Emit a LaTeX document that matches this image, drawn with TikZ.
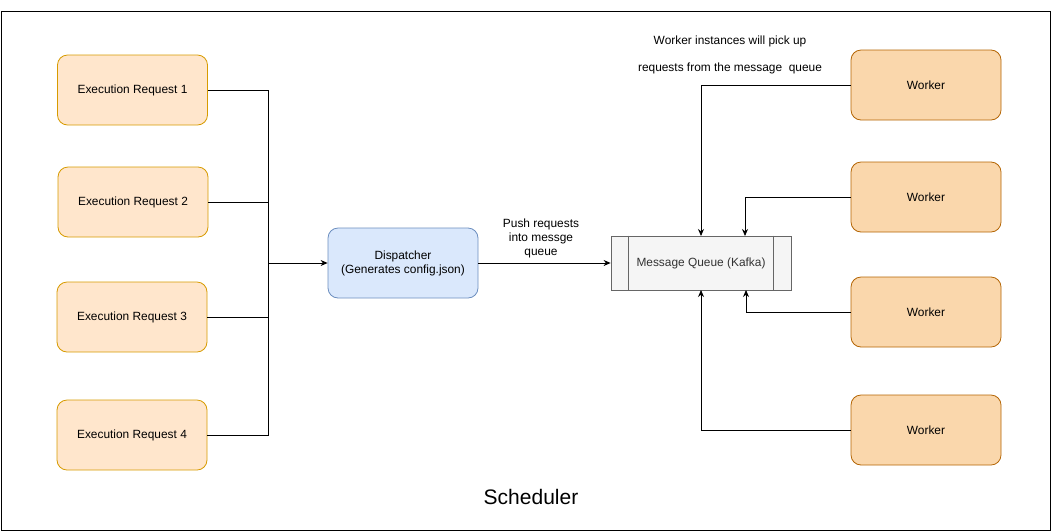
\documentclass[tikz,border=0pt]{standalone}
\usepackage{fontspec}
\setmainfont{Liberation Sans}
\usetikzlibrary{arrows.meta}
\definecolor{reqfill}{HTML}{FFE6CC}
\definecolor{reqdraw}{HTML}{D79B00}
\definecolor{dispfill}{HTML}{DAE8FC}
\definecolor{dispdraw}{HTML}{6C8EBF}
\definecolor{qfill}{HTML}{F5F5F5}
\definecolor{qdraw}{HTML}{666666}
\definecolor{qtext}{HTML}{333333}
\definecolor{wfill}{HTML}{FAD7AC}
\definecolor{wdraw}{HTML}{B46504}
\tikzset{
  box/.style={rounded corners=10pt, minimum width=150pt, minimum height=70pt, inner sep=0pt, align=center, font=\fontsize{11.9}{14}\selectfont, line width=0.8pt},
  reqbox/.style={box, fill=reqfill, draw=reqdraw},
  dispbox/.style={box, fill=dispfill, draw=dispdraw},
  wbox/.style={box, fill=wfill, draw=wdraw},
  qbox/.style={fill=qfill, draw=qdraw, minimum width=180pt, minimum height=54pt, inner sep=0pt, text=qtext, font=\fontsize{11.9}{14}\selectfont, line width=0.8pt},
  conn/.style={draw=black, line width=0.8pt},
  arr/.style={conn, -{Stealth[length=7pt,width=6pt]}},
  lbl/.style={font=\fontsize{11.9}{14}\selectfont, align=center, inner sep=0pt}
}
\begin{document}
\begin{tikzpicture}[x=1pt,y=-1pt]
\useasboundingbox (0,0) rectangle (1051,531);
\node[draw=black, line width=0.8pt, minimum width=1049pt, minimum height=519pt, inner sep=0pt] (frame) at (525.5,270.5) {};
% requests
\node[reqbox] (r1) at (132.5,90) {Execution Request 1};
\node[reqbox] (r2) at (133,202) {Execution Request 2};
\node[reqbox] (r3) at (132,317) {Execution Request 3};
\node[reqbox] (r4) at (132,435) {Execution Request 4};
% dispatcher
\node[dispbox] (d) at (403,263) {Dispatcher\\(Generates config.json)};
% queue
\node[qbox] (q) at (701,263) {Message Queue (Kafka)};
\draw[qdraw, line width=0.8pt] ([xshift=18pt]q.north west) -- ([xshift=18pt]q.south west);
\draw[qdraw, line width=0.8pt] ([xshift=-18pt]q.north east) -- ([xshift=-18pt]q.south east);
% workers
\node[wbox] (w1) at (926,85) {Worker};
\node[wbox] (w2) at (926,197) {Worker};
\node[wbox] (w3) at (926,312) {Worker};
\node[wbox] (w4) at (926,430) {Worker};
% junction
\coordinate (j) at (268,263);
\draw[conn] (r1.east) -| (j);
\draw[conn] (r2.east) -| (j);
\draw[conn] (r3.east) -| (j);
\draw[conn] (r4.east) -| (j);
\draw[arr] (j) -- (d.west);
\draw[arr] (d.east) -- (q.west);
\node[lbl] (pl) at (541,238) {Push requests\\into messge\\queue};
% workers to queue
\draw[arr] (w1.west) -| (701,236);
\draw[arr] (w2.west) -| (745,236);
\draw[arr] (w3.west) -| (746,290);
\draw[arr] (w4.west) -| (701,290);
\node[lbl] (t1) at (730,41) {Worker instances will pick up};
\node[lbl] (t2) at (730,68) {requests from the message\ \ queue};
\node[font=\fontsize{21}{25}\selectfont, inner sep=0pt] (s) at (531,497) {Scheduler};
\end{tikzpicture}
\end{document}
